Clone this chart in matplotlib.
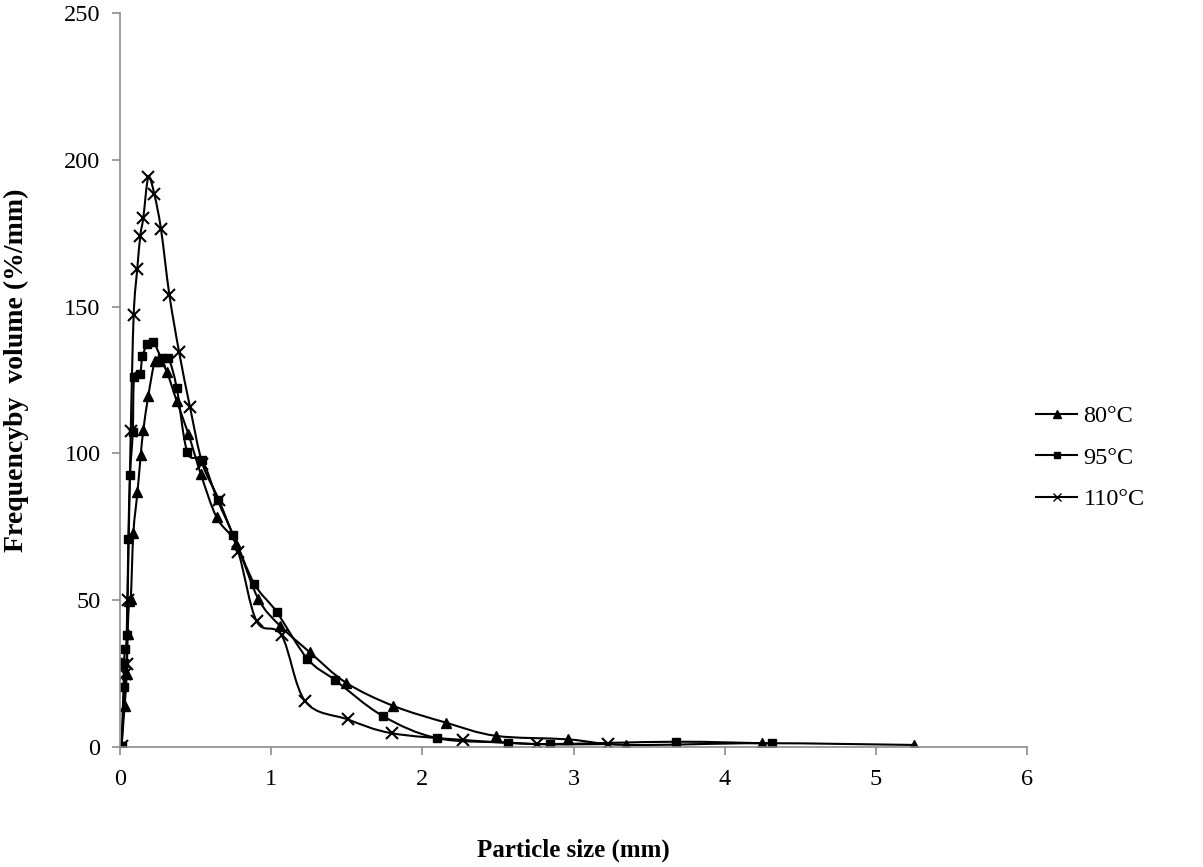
import matplotlib
matplotlib.use('Agg')
import matplotlib.pyplot as plt
from matplotlib.path import Path
from matplotlib.patches import PathPatch
from matplotlib.lines import Line2D

plt.rcParams['font.family'] = ['Liberation Serif', 'DejaVu Serif']

# Particle size (mm) and frequency by volume (%/mm)
size_80 = [0.01, 0.03, 0.044, 0.05, 0.06, 0.071, 0.088, 0.115, 0.137, 0.154, 0.187, 0.231,
           0.265, 0.31, 0.375, 0.452, 0.534, 0.639, 0.767, 0.915, 1.058, 1.257, 1.495,
           1.808, 2.156, 2.487, 2.965, 3.35, 4.25, 5.25]
freq_80 = [0.3, 14.0, 24.8, 38.6, 49.6, 50.5, 72.9, 86.7, 99.6, 108.0, 119.7, 131.6,
           131.6, 127.7, 117.8, 106.6, 93.0, 78.2, 69.3, 50.4, 41.3, 32.2, 21.9,
           14.0, 8.3, 3.8, 2.6, 0.7, 1.3, 0.7]

size_95 = [0.01, 0.023, 0.026, 0.033, 0.044, 0.055, 0.066, 0.084, 0.093, 0.132, 0.148,
           0.181, 0.22, 0.276, 0.32, 0.375, 0.445, 0.544, 0.646, 0.75, 0.888, 1.036,
           1.24, 1.422, 1.737, 2.099, 2.568, 2.844, 3.68, 4.31]
freq_95 = [0.5, 20.4, 28.6, 33.4, 38.3, 71.0, 92.7, 107.4, 126.0, 127.1, 133.1,
           137.2, 138.0, 132.4, 132.4, 122.3, 100.4, 97.6, 84.0, 72.1, 55.6, 46.0,
           30.0, 22.8, 10.6, 3.0, 1.5, 1.0, 1.8, 1.2]

size_110 = [0.01, 0.035, 0.044, 0.05, 0.071, 0.09, 0.114, 0.134, 0.154, 0.187, 0.227,
            0.271, 0.326, 0.39, 0.463, 0.545, 0.655, 0.783, 0.904, 1.069, 1.226, 1.506,
            1.797, 2.27, 2.756, 3.23]
freq_110 = [0.3, 25.0, 28.2, 50.0, 107.8, 147.0, 162.9, 174.2, 180.3, 194.0, 188.2,
            176.3, 154.1, 134.7, 115.7, 96.5, 84.0, 66.3, 42.8, 38.0, 15.5, 9.4,
            4.7, 2.4, 1.0, 1.0]

labels = ['80\u00b0C', '95\u00b0C', '110\u00b0C']
markers = ['^', 's', 'x']
msizes = [7.5, 6, 8.5]


def smooth_path(xs, ys):
    # Catmull-Rom through the points, drawn as cubic Bezier segments (like Excel smoothing)
    verts = [(xs[0], ys[0])]
    codes = [Path.MOVETO]
    n = len(xs)
    for i in range(n - 1):
        x0, y0 = (xs[i - 1], ys[i - 1]) if i > 0 else (xs[i], ys[i])
        x1, y1 = xs[i], ys[i]
        x2, y2 = xs[i + 1], ys[i + 1]
        x3, y3 = (xs[i + 2], ys[i + 2]) if i + 2 < n else (x2, y2)
        c1 = (x1 + (x2 - x0) / 6.0, y1 + (y2 - y0) / 6.0)
        c2 = (x2 - (x3 - x1) / 6.0, y2 - (y3 - y1) / 6.0)
        verts += [c1, c2, (x2, y2)]
        codes += [Path.CURVE4] * 3
    return Path(verts, codes)


fig = plt.figure(figsize=(12.03, 8.67), dpi=100)
ax = fig.add_axes([0.0998, 0.1384, 0.7539, 0.8466])

series = [(size_80, freq_80), (size_95, freq_95), (size_110, freq_110)]
handles = []
for (xs, ys), lab, m, ms in zip(series, labels, markers, msizes):
    ax.add_patch(PathPatch(smooth_path(xs, ys), facecolor='none', edgecolor='black', lw=1.5))
    ax.plot(xs, ys, linestyle='none', marker=m, markersize=ms, color='black',
            markeredgewidth=1.5 if m == 'x' else 1)
    handles.append(Line2D([], [], color='black', lw=1.5, marker=m,
                          markersize=ms * 0.75, markeredgewidth=1))

ax.set_xlim(0, 6)
ax.set_ylim(0, 250)
ax.set_xticks(range(0, 7))
ax.set_yticks(range(0, 251, 50))

for s in ['top', 'right']:
    ax.spines[s].set_visible(False)
for s in ['left', 'bottom']:
    ax.spines[s].set_color('#8c8c8c')
    ax.spines[s].set_linewidth(1.2)
ax.tick_params(direction='out', length=6, width=1.2, color='#8c8c8c',
               labelsize=17.5)
ax.tick_params(axis='y', pad=8)
ax.tick_params(axis='x', pad=10)

ax.set_xlabel('Particle size (mm)', fontsize=18, fontweight='bold', labelpad=35)
fig.text(0.014, 0.573, 'Frequencyby  volume (%/mm)', rotation=90, fontsize=20,
         fontweight='bold', ha='center', va='center')

fig.legend(handles, labels, loc='center left', bbox_to_anchor=(0.843, 0.472),
           frameon=False, fontsize=17.5, numpoints=1, handlelength=1.7,
           labelspacing=0.8, handletextpad=0.25)

fig.savefig('out.png', dpi=100)
